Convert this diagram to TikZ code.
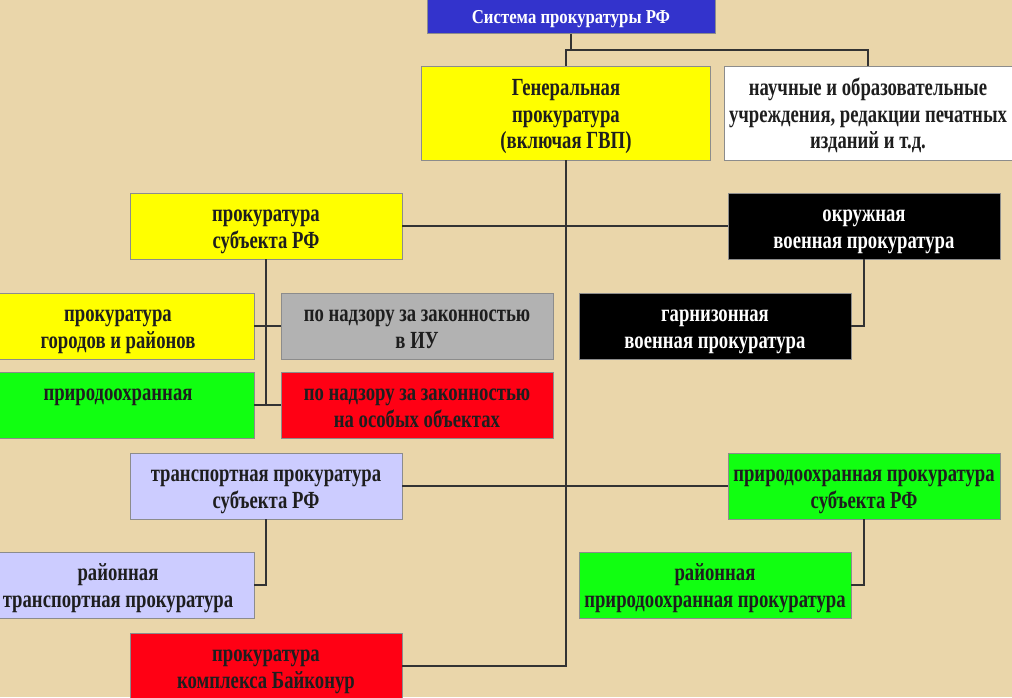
\documentclass[tikz,border=0pt]{standalone}
\usepackage{fontspec}
\setmainfont{Liberation Serif}[FakeStretch=0.76]
\newfontfamily\titlefont{Liberation Serif}[FakeStretch=0.85]
\definecolor{parch}{RGB}{234,214,170}
\definecolor{sysblue}{RGB}{51,51,204}
\definecolor{yel}{RGB}{255,255,0}
\definecolor{grn}{RGB}{17,255,17}
\definecolor{rd}{RGB}{255,0,20}
\definecolor{gry}{RGB}{178,178,178}
\definecolor{lav}{RGB}{204,204,255}
\definecolor{ink}{RGB}{30,30,30}
\begin{document}
\begin{tikzpicture}[x=0.025cm,y=-0.025cm,
	box/.style={draw=black!45,line width=0.6pt,minimum width=6.8cm,minimum height=1.65cm,
		inner sep=0pt,align=center,text=ink,font=\fontsize{17.5}{19}\selectfont\bfseries,
		text height=36pt,text depth=4pt},
	tall/.style={minimum height=2.35cm,text height=55pt},
	wire/.style={draw=black!80,line width=0.9pt}]
	\fill[parch] (0,0) rectangle (1012,697);
	\clip (0,0) rectangle (1012,697);

	\node[box,fill=sysblue,text=white,minimum width=7.2cm,minimum height=0.83cm,
		font=\titlefont\fontsize{14}{16}\selectfont\bfseries,
		text height=9.5pt,text depth=0pt] (sys) at (571,16.5) {Система прокуратуры РФ};
	\node[box,tall,fill=yel,minimum width=7.22cm] (gen) at (566,113) {Генеральная\\прокуратура\\(включая ГВП)};
	\node[box,tall,fill=white,minimum width=7.2cm] (sci) at (868,113) {научные и образовательные\\учреждения, редакции печатных\\изданий и т.д.};

	\node[box,fill=yel] (subj) at (266,226) {прокуратура\\субъекта РФ};
	\node[box,fill=black,text=white] (okr) at (864,226) {окружная\\военная прокуратура};

	\node[box,fill=yel] (city) at (118,326) {прокуратура\\городов и районов};
	\node[box,fill=gry] (iu) at (417,326) {по надзору за законностью\\в ИУ};
	\node[box,fill=black,text=white] (garn) at (715,326) {гарнизонная\\военная прокуратура};

	\node[box,fill=grn] (nat) at (118,405) {природоохранная\\\strut};
	\node[box,fill=rd] (obj) at (417,405) {по надзору за законностью\\на особых объектах};

	\node[box,fill=lav] (trans) at (266,486) {транспортная прокуратура\\субъекта РФ};
	\node[box,fill=grn] (natsubj) at (864,486) {природоохранная прокуратура\\субъекта РФ};

	\node[box,fill=lav] (rtrans) at (118,585) {районная\\транспортная прокуратура};
	\node[box,fill=grn] (rnat) at (715,585) {районная\\природоохранная прокуратура};

	\node[box,fill=rd] (baik) at (266,666) {прокуратура\\комплекса Байконур};

	\coordinate (top) at (571,50);
	\draw[wire] (sys.south) -- (top);
	\draw[wire] (gen.north) |- (top) -| (sci.north);
	\draw[wire] (gen.south) |- (baik.east);
	\draw[wire] (subj.east) -- (okr.west);
	\draw[wire] (trans.east) -- (natsubj.west);
	\draw[wire] (subj.south) |- (nat.east);
	\draw[wire] (city.east) -- (iu.west);
	\draw[wire] (nat.east) -- (obj.west);
	\draw[wire] (okr.south) |- (garn.east);
	\draw[wire] (trans.south) |- (rtrans.east);
	\draw[wire] (natsubj.south) |- (rnat.east);
\end{tikzpicture}
\end{document}
